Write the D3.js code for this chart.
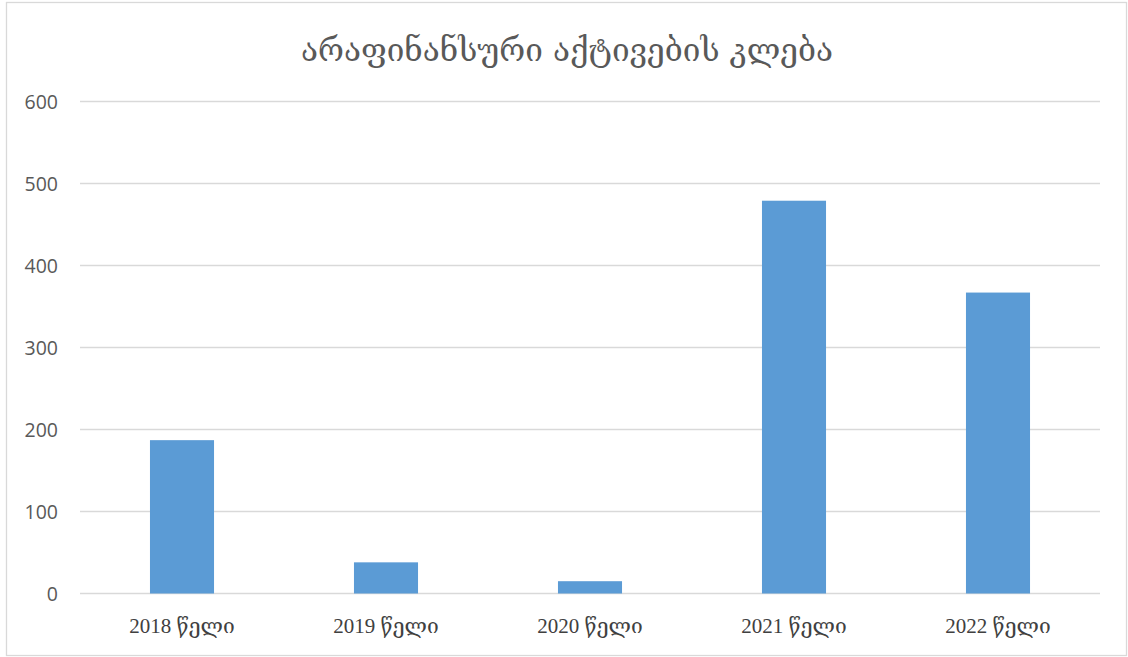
<!DOCTYPE html>
<html>
<head>
<meta charset="utf-8">
<script src="https://cdn.jsdelivr.net/npm/d3@7"></script>
<style>
  body { margin: 0; background: #fff; }
  .grid line { stroke: #d9d9d9; stroke-width: 1.3; }
  .y-ticks text { font-family: "Open Sans", "Liberation Sans", sans-serif; font-size: 19.5px; fill: #595959; }
  .x-labels text { font-family: "Liberation Serif", "DejaVu Serif", serif; font-size: 21px; fill: #404040; }
</style>
</head>
<body>
<svg id="chart" width="1128" height="657"></svg>
<script>
var categories = ["2018 წელი", "2019 წელი", "2020 წელი", "2021 წელი", "2022 წელი"];
var values = [187, 38, 15, 479, 367];
var yTicks = [0, 100, 200, 300, 400, 500, 600];
var title = "არაფინანსური აქტივების კლება";

var margin = { top: 101.5, left: 80, right: 28, bottom: 63.5 },
  width = 1128 - margin.left - margin.right,
  height = 657 - margin.top - margin.bottom;

var svg = d3.select("#chart");

// outer border
svg.append("rect")
  .attr("x", 6.5).attr("y", 2.5)
  .attr("width", 1120).attr("height", 653)
  .attr("fill", "#fff")
  .attr("stroke", "#d9d9d9")
  .attr("stroke-width", 1.3);

var g = svg.append("g")
  .attr("transform", "translate(" + margin.left + "," + margin.top + ")");

var x = d3.scaleBand()
  .domain(categories)
  .range([0, width])
  .paddingInner(0.686)
  .paddingOuter(0.343);

var y = d3.scaleLinear()
  .domain([0, 600])
  .range([height, 0]);

// grid lines
g.append("g")
  .attr("class", "grid")
  .selectAll("line")
  .data(yTicks)
  .enter().append("line")
  .attr("x1", 0)
  .attr("x2", width)
  .attr("y1", function (d) { return y(d); })
  .attr("y2", function (d) { return y(d); });

// bars
g.append("g").selectAll("rect")
  .data(values)
  .enter().append("rect")
  .attr("x", function (d, i) { return x(categories[i]); })
  .attr("y", function (d) { return y(d); })
  .attr("width", x.bandwidth())
  .attr("height", function (d) { return y(0) - y(d); })
  .attr("fill", "#5b9bd5");

// y tick labels
var yAxis = d3.axisLeft(y).tickValues(yTicks).tickSize(0).tickPadding(22);
g.append("g")
  .attr("class", "y-ticks")
  .call(yAxis)
  .call(function (s) { s.select(".domain").remove(); })
  .selectAll("text")
  .attr("dy", "0.35em");

// x labels
var xAxis = d3.axisBottom(x).tickSize(0).tickPadding(25);
g.append("g")
  .attr("class", "x-labels")
  .attr("transform", "translate(0," + height + ")")
  .call(xAxis)
  .call(function (s) { s.select(".domain").remove(); });

// title
svg.append("text")
  .attr("x", 567)
  .attr("y", 61)
  .attr("text-anchor", "middle")
  .attr("font-family", "'DejaVu Serif', 'DejaVu Sans', serif")
  .attr("font-size", 31.5)
  .attr("fill", "#595959")
  .text(title);
</script>
</body>
</html>
